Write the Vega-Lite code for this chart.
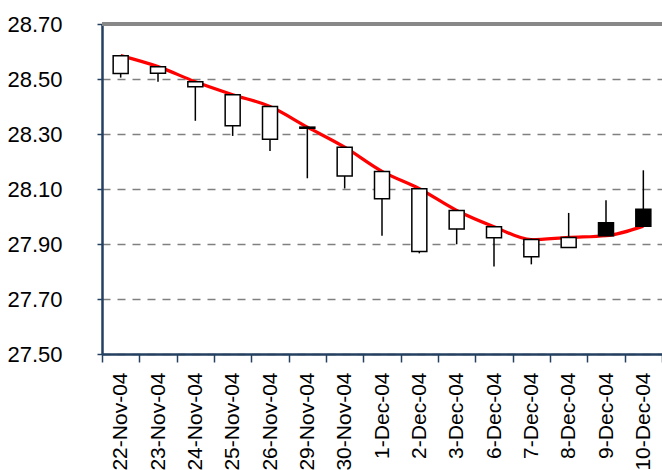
{
  "$schema": "https://vega.github.io/schema/vega-lite/v6.json",
  "width": 560,
  "height": 330,
  "autosize": "none",
  "padding": {"left": 102, "top": 24, "right": 0, "bottom": 116},
  "background": "white",
  "view": {"stroke": null},
  "config": {
    "font": "Liberation Sans",
    "axis": {"labelFont": "Liberation Sans", "labelFontSize": 21, "labelColor": "black"}
  },
  "data": {
    "values": [
      {"date": "22-Nov-04", "open": 28.52, "high": 28.585, "low": 28.505, "close": 28.585},
      {"date": "23-Nov-04", "open": 28.521, "high": 28.545, "low": 28.49, "close": 28.545},
      {"date": "24-Nov-04", "open": 28.472, "high": 28.49, "low": 28.348, "close": 28.49},
      {"date": "25-Nov-04", "open": 28.33, "high": 28.443, "low": 28.293, "close": 28.443},
      {"date": "26-Nov-04", "open": 28.281, "high": 28.4, "low": 28.238, "close": 28.4},
      {"date": "29-Nov-04", "open": 28.321, "high": 28.327, "low": 28.139, "close": 28.325},
      {"date": "30-Nov-04", "open": 28.147, "high": 28.252, "low": 28.102, "close": 28.252},
      {"date": "1-Dec-04", "open": 28.065, "high": 28.164, "low": 27.93, "close": 28.164},
      {"date": "2-Dec-04", "open": 27.873, "high": 28.101, "low": 27.866, "close": 28.101},
      {"date": "3-Dec-04", "open": 27.955, "high": 28.022, "low": 27.899, "close": 28.022},
      {"date": "6-Dec-04", "open": 27.923, "high": 27.963, "low": 27.818, "close": 27.963},
      {"date": "7-Dec-04", "open": 27.854, "high": 27.92, "low": 27.826, "close": 27.916},
      {"date": "8-Dec-04", "open": 27.887, "high": 28.013, "low": 27.887, "close": 27.924},
      {"date": "9-Dec-04", "open": 27.977, "high": 28.059, "low": 27.93, "close": 27.93},
      {"date": "10-Dec-04", "open": 28.026, "high": 28.168, "low": 27.965, "close": 27.965}
    ]
  },
  "encoding": {
    "x": {
      "field": "date",
      "type": "nominal",
      "sort": null,
      "title": null,
      "scale": {"paddingInner": 0, "paddingOuter": 0},
      "axis": {
        "labelAngle": -90,
        "labelAlign": "right",
        "labelBaseline": "middle",
        "labelPadding": 10,
        "tickBand": "extent",
        "tickSize": 8,
        "tickWidth": 1.5,
        "tickColor": "#244061",
        "domainColor": "#244061",
        "domainWidth": 2.5,
        "grid": false
      }
    }
  },
  "layer": [
    {
      "mark": {"type": "rule", "color": "#888888", "strokeWidth": 2.5},
      "encoding": {"y": {"datum": 28.7, "type": "quantitative"}, "x": null}
    },
    {
      "mark": {"type": "line", "color": "#ff0000", "strokeWidth": 3.2, "interpolate": "monotone"},
      "encoding": {
        "y": {
          "field": "close",
          "type": "quantitative",
          "title": null,
          "scale": {"domain": [27.5, 28.7], "zero": false, "nice": false},
          "axis": {
            "values": [27.5, 27.7, 27.9, 28.1, 28.3, 28.5, 28.7],
            "format": ".2f",
            "labelFontSize": 22,
            "tickSize": 5,
            "tickWidth": 1.5,
            "tickColor": "#244061",
            "domainColor": "#244061",
            "domainWidth": 2.5,
            "labelPadding": 35,
            "grid": true,
            "gridColor": "#808080",
            "gridWidth": 1.5,
            "gridDash": [8, 7]
          }
        }
      }
    },
    {
      "mark": {"type": "rule", "color": "black", "strokeWidth": 1.5},
      "encoding": {
        "y": {"field": "low", "type": "quantitative"},
        "y2": {"field": "high"}
      }
    },
    {
      "mark": {"type": "bar", "size": 15, "stroke": "black", "strokeWidth": 1.5},
      "encoding": {
        "y": {"field": "open", "type": "quantitative"},
        "y2": {"field": "close"},
        "fill": {
          "condition": {"test": "datum.open > datum.close", "value": "black"},
          "value": "white"
        }
      }
    }
  ]
}
